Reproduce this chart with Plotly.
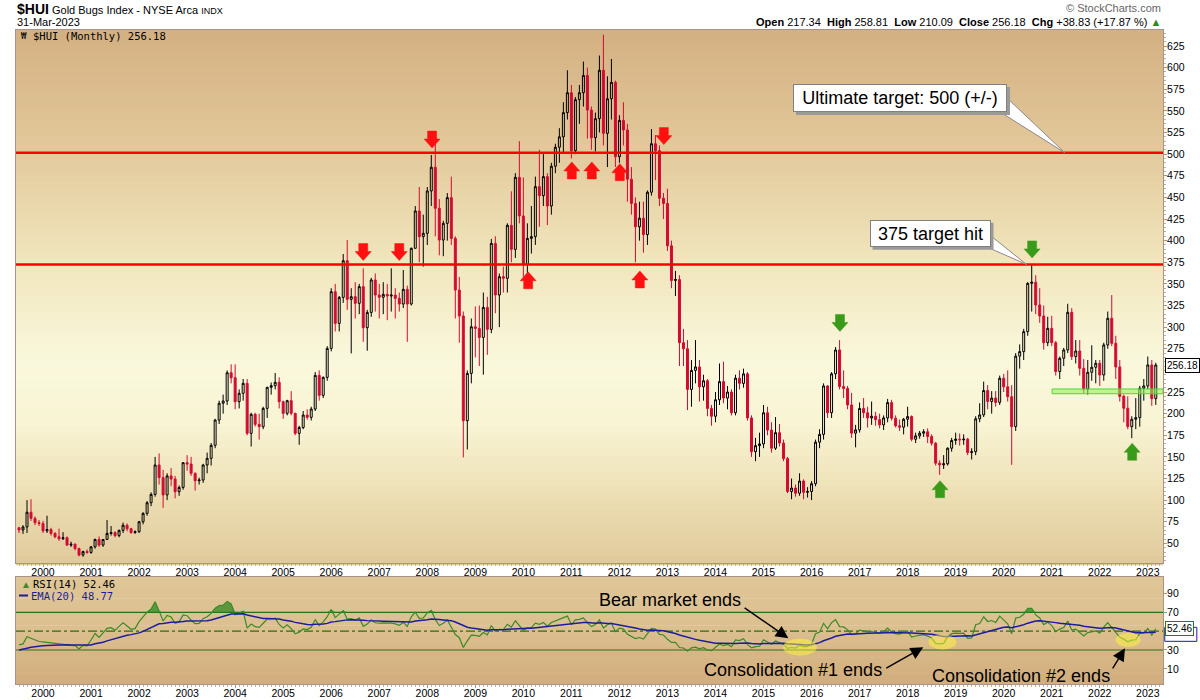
import numpy as np
import plotly.graph_objects as go

# ---------------- data ----------------
start_year, start_month = 1999, 7          # first monthly candle: Jul 1999
first_open = 68.0

closes = [
    # 1999 Jul-Dec
    65.5, 69, 86, 79, 74, 73,
    # 2000
    64.5, 66, 61.5, 57.6, 55.3, 56.5, 48, 49, 44, 36.5, 40.5, 39.5,
    # 2001
    46, 54.5, 48, 54.5, 61.5, 62.5, 59, 65, 71, 67, 62.5, 63.5,
    # 2002
    75, 84.7, 97, 106.6, 140.6, 126, 106, 128, 124.4, 109.7, 114.7, 143.3,
    # 2003
    141.7, 131, 122.4, 123.2, 140.6, 148.3, 163.3, 192.6, 212, 214.6, 247.3, 241.5,
    # 2004
    213.8, 223.5, 235, 177.2, 199.2, 187.6, 184.9, 206.1, 230.4, 232.3, 236.2, 213.8,
    # 2005
    200.3, 215, 200.3, 177.2, 184, 198.4, 195.7, 205.3, 244.2, 221.1, 241.9, 275.4,
    # 2006
    341, 304.3, 334.4, 376.8, 332.1, 335.2, 327.5, 346.8, 299.3, 317, 354.5, 337.1,
    # 2007
    334.5, 337.9, 336, 337, 333.3, 326.7, 343.7, 326.7, 391.1, 434.3, 404.6, 408.4,
    # 2008
    457.4, 484.8, 437.4, 400.7, 420, 449.7, 402.6, 342.9, 312.9, 191.8, 246.5, 300.4,
    # 2009
    298.5, 288.1, 322.8, 297.4, 396.8, 337.1, 358.3, 356.4, 417.7, 389.9, 473.2, 428.5,
    # 2010
    372.6, 402.6, 404.6, 462.4, 452, 474, 440, 486, 508, 520, 548, 571,
    # 2011
    504, 563, 571, 591, 551, 519, 541, 597, 524, 564, 583, 497,
    # 2012
    539, 528, 471, 443, 416, 426, 407, 456, 512, 504, 449, 443,
    # 2013
    394, 354, 355, 282, 275, 228, 250, 254, 231, 238, 206, 197,
    # 2014
    216, 237, 218, 225, 201, 241, 235, 246, 195, 156, 163, 165,
    # 2015
    201, 181, 160, 178, 166, 148, 110, 114, 108, 122, 109, 110,
    # 2016
    119, 167, 176, 232, 201, 246, 273.6, 231.3, 229, 210, 177.4, 181.2,
    # 2017
    206, 201, 195, 197, 193, 187, 195, 212.8, 194.7, 186, 184.3, 193.5,
    # 2018
    196.6, 170.4, 174.3, 177.4, 179, 173.5, 165.8, 142.7, 140.8, 142, 160, 169,
    # 2019
    170.5, 169.7, 170.4, 155, 156, 194, 198.5, 226.7, 214, 218, 213, 240.9,
    # 2020
    231, 219.6, 185, 266.5, 271.7, 294.8, 350.6, 352, 325.6, 312.9, 282, 298.6,
    # 2021
    282, 248.6, 264, 273.6, 317.1, 265.9, 272.4, 252.4, 228.2, 247.8, 253.6, 258.2,
    # 2022
    244.7, 279.4, 310.2, 281.3, 254, 220, 206.2, 185, 193.5, 195.4, 229.3, 232,
    # 2023 Jan-Mar
    256.3, 217.35, 256.18,
]

highs = [
    69, 71, 100, 101, 81, 77,
    76, 82, 68, 63, 67, 63, 58, 52, 50, 45, 41.5, 43,
    47, 55.5, 58, 55, 77, 70, 64, 66, 74, 73, 68, 65,
    76, 86, 99, 109, 150, 154, 135, 131, 137, 128, 117, 144,
    152, 150, 132, 126, 142, 155, 166, 194, 215, 222, 250, 257,
    257, 228, 240, 240, 201, 201, 200, 208, 231, 236, 247, 242,
    215, 216, 226, 201, 186, 203, 205, 208, 248, 250, 243, 278,
    345, 350, 336, 384.5, 400.7, 345, 352, 350, 368, 320, 357, 362,
    350, 352, 350, 368, 345, 340, 366, 348, 392, 440, 462, 430,
    462, 499, 517, 448, 423, 455, 474, 405, 358, 318, 250, 310,
    324, 325, 340, 335, 402, 405, 362, 370, 420, 457, 478, 515,
    473, 420, 440, 474, 505, 500, 478, 490, 512, 530, 560, 597,
    580, 566, 580, 607, 600, 555, 548, 614, 638, 590, 610, 585,
    545, 560, 535, 485, 450, 445, 445, 458, 529, 522, 510, 455,
    460, 400, 365, 360, 298, 285, 262, 285, 262, 245, 240, 210,
    225, 258, 260, 232, 228, 245, 250, 252, 248, 198, 172, 178,
    210, 208, 190, 196, 188, 170, 150, 125, 118, 131, 124, 115,
    122, 170, 182, 235, 233, 248, 277, 285, 250, 232, 224, 187,
    213, 218, 208, 214, 202, 200, 198, 217, 216, 198, 193, 195,
    208, 198, 178, 180, 182, 183, 176, 167, 146, 152, 161, 172,
    178, 177, 176, 172, 160, 197, 212, 237, 233, 226, 226, 244,
    246, 250, 233, 270, 280, 298, 352, 372, 360, 345, 325, 312,
    313, 284, 266, 276, 327, 322, 285, 285, 263, 262, 279, 262,
    262, 282, 318, 337, 290, 262, 222, 220, 197, 218, 232, 240,
    266, 262, 258.81,
]

lows = [
    62, 61, 62, 76, 71, 70,
    62, 62, 59, 56, 53, 54, 47, 46, 42, 35, 34.5, 38,
    38, 44, 46, 46, 54, 59, 57, 57, 62, 64, 61, 61,
    62, 72, 82, 93, 104, 118, 91, 100, 116, 102, 105, 112,
    134, 128, 111, 118, 120, 131, 140, 160, 188, 200, 210, 235,
    205, 206, 215, 175, 162, 185, 170, 182, 195, 222, 228, 206,
    194, 198, 198, 175, 164, 182, 193, 192, 203, 215, 218, 238,
    272, 295, 295, 328, 320, 269.6, 310, 315, 283, 272.7, 312, 318,
    310, 315, 308, 318, 310, 318, 322, 283, 325, 395, 375, 370,
    395, 440, 405, 383, 382, 400, 395, 310, 282, 149.4, 158.6, 235,
    265, 255, 245, 268, 293, 316, 300, 340, 340, 375, 380, 420,
    358, 355, 385, 395, 416, 440, 418, 430, 478, 490, 502, 540,
    495, 500, 535, 555, 518, 505, 503, 525, 510, 485, 540, 485,
    490, 510, 445, 430, 375, 400, 386, 395, 452, 470, 440, 425,
    388, 345, 336, 255, 255, 204, 208, 235, 214, 215, 197, 186,
    190, 210, 212, 205, 198, 198, 228, 230, 192, 150, 145, 150,
    160, 175, 155, 158, 162, 145, 108, 101, 104, 105, 101, 103,
    100, 116, 160, 170, 195, 195, 240, 228, 218, 205, 172, 161,
    178, 195, 184, 187, 186, 183, 181, 190, 192, 184, 180, 176,
    185, 168, 166, 171, 173, 166, 163, 140, 129.2, 136, 140, 156,
    164, 163, 164, 152, 147, 152, 190, 196, 205, 200, 208, 210,
    225, 214, 140.8, 180, 252, 262, 290, 318, 315, 305, 274, 278,
    278, 244, 240, 255, 270, 262, 258, 244, 223.5, 222, 238, 235,
    232, 238, 275, 278, 240, 214, 190, 182, 171.6, 182, 185, 215,
    228, 209, 210.09,
]

# RSI values for the first 14 months (before a full 14-month window exists)
rsi_warmup = [35.5, 36.5, 44, 42.5, 40.5, 39, 38.6, 38, 37.5, 37, 36.5, 36, 35.5, 35]
ema_start = 30.0

year_labels = [str(y) for y in range(2000, 2024)]
price_ticks = list(range(50, 626, 25))
price_tick_text = ["" if v == 250 else str(v) for v in price_ticks]   # 250 is hidden under the last-value tag
rsi_ticks = [10, 30, 70, 90]

target_lines = [501.5, 372.5]
support_band = (223.0, 228.5)
support_band_start = 252.1          # month index where the green band starts

red_down_x = [80.0, 89.0, 97.2, 155.1]
red_down_y = [377, 377, 507, 511]
red_up_x = [121.2, 132.1, 137.1, 144.1, 149.1]
red_up_y = [364, 491, 491, 489, 365]
green_down_x = [199.1, 247.1]
green_down_y = [295, 380]
green_up_x = [224.1, 272.1]
green_up_y = [122.5, 165.7]

# yellow highlight ellipses in RSI panel (month index, RSI value)
ellipse_x = [189.1, 224.7, 271.1]
ellipse_y = [32.9, 38.5, 40.6]

# callout boxes: (month index, price, text, box width px, box height px)
callouts = [(214.1, 564.9, "Ultimate target: 500 (+/-)", 214, 28),
            (221.6, 408.5, "375 target hit", 121, 27)]

header_values = "<b>Open</b> 217.34  <b>High</b> 258.81  <b>Low</b> 210.09  <b>Close</b> 256.18  <b>Chg</b> +38.83 (+17.87 %) "
last_close_label = "256.18"
rsi_label_value = 52.46
ema_label_value = 48.77

# ---------------- derived ----------------
n = len(closes)
m0 = (start_year - 2000) * 12 + (start_month - 1)
mx = np.arange(n) + m0
c = np.array(closes, float)
opens = np.concatenate([[first_open], c[:-1]])
h = np.maximum(np.array(highs, float), np.maximum(opens, c))
l = np.minimum(np.array(lows, float), np.minimum(opens, c))

# Wilder RSI(14)
period = 14
d = np.diff(c)
g = np.clip(d, 0, None)
ls = np.clip(-d, 0, None)
rsi = np.full(n, np.nan)
rsi[:period] = rsi_warmup
ag = g[:period].mean()
al = ls[:period].mean()
rsi[period] = 100 - 100 / (1 + ag / al)
for i in range(period + 1, n):
    ag = (ag * (period - 1) + g[i - 1]) / period
    al = (al * (period - 1) + ls[i - 1]) / period
    rsi[i] = 100 - 100 / (1 + ag / al) if al > 0 else 100
ema = np.zeros(n)
alpha = 2 / 21
ema[0] = ema_start
for i in range(1, n):
    ema[i] = alpha * rsi[i] + (1 - alpha) * ema[i - 1]

# ---------------- figure ----------------
W, H = 1200, 700
L, R, T, B = 16, 37, 30, 16
PW, PH = W - L - R, H - T - B


def P(px, py):
    # page pixel -> paper coordinates
    return (px - L) / PW, (H - B - py) / PH


XR = [-6.75, 279.8]
main_dom = [0.185, 1.0]
rsi_dom = [0.0, 0.1636]

fig = go.Figure()

fig.add_trace(go.Candlestick(
    x=mx, open=opens, high=h, low=l, close=c, xaxis="x", yaxis="y",
    increasing=dict(line=dict(color="black", width=1), fillcolor="rgba(0,0,0,0)"),
    decreasing=dict(line=dict(color="#d40a32", width=1), fillcolor="#d40a32"),
    whiskerwidth=0, hoverinfo="skip", showlegend=False))

# RSI panel
fig.add_trace(go.Scatter(x=mx, y=np.full(n, 70.0), xaxis="x2", yaxis="y2", mode="lines",
                         line=dict(width=0), hoverinfo="skip", showlegend=False))
fig.add_trace(go.Scatter(x=mx, y=np.maximum(rsi, 70), xaxis="x2", yaxis="y2", mode="lines",
                         line=dict(width=0), fill="tonexty", fillcolor="rgba(50,135,35,0.75)",
                         hoverinfo="skip", showlegend=False))
fig.add_trace(go.Scatter(x=mx, y=rsi, xaxis="x2", yaxis="y2", mode="lines",
                         line=dict(color="#3a8a26", width=1.2), hoverinfo="skip", showlegend=False))
fig.add_trace(go.Scatter(x=mx, y=ema, xaxis="x2", yaxis="y2", mode="lines",
                         line=dict(color="#1c1ca0", width=1.5), hoverinfo="skip", showlegend=False))

shapes = []


def lerp_stops(stops, t):
    for (t0, c0), (t1, c1) in zip(stops[:-1], stops[1:]):
        if t0 <= t <= t1:
            f = (t - t0) / (t1 - t0) if t1 > t0 else 0
            return "rgb(%d,%d,%d)" % tuple(round(a + (b - a) * f) for a, b in zip(c0, c1))
    return "rgb(%d,%d,%d)" % stops[-1][1]


def gradient(yref, stops, nb):
    for i in range(nb):
        t0, t1 = i / nb, (i + 1) / nb
        shapes.append(dict(type="rect", xref="paper", yref=yref, x0=0, x1=1,
                           y0=1 - t1 - 0.004, y1=1 - t0, layer="below", line=dict(width=0),
                           fillcolor=lerp_stops(stops, (t0 + t1) / 2)))


gradient("y domain", [(0.0, (211, 176, 130)), (0.2, (225, 198, 152)), (0.42, (240, 228, 186)),
                      (0.62, (250, 248, 220)), (0.74, (248, 244, 212)), (0.88, (236, 222, 178)),
                      (1.0, (224, 202, 156))], 70)
gradient("y2 domain", [(0.0, (223, 198, 151)), (0.5, (219, 191, 143)), (1.0, (210, 172, 124))], 20)

# RSI reference lines
for v, dash in [(70, "solid"), (30, "solid"), (50, "dashdot")]:
    shapes.append(dict(type="line", xref="paper", yref="y2", x0=0, x1=1, y0=v, y1=v, layer="below",
                       line=dict(color="#2a6e16", width=1.2, dash=dash)))

# target lines
for v in target_lines:
    shapes.append(dict(type="line", xref="paper", yref="y", x0=0, x1=1, y0=v, y1=v,
                       line=dict(color="#ff0000", width=2.5)))

# green support band
shapes.append(dict(type="rect", xref="x", yref="y", x0=support_band_start, x1=XR[1],
                   y0=support_band[0], y1=support_band[1], fillcolor="rgba(130,250,90,0.55)",
                   line=dict(color="#5ad03a", width=1)))

DOWN = "M0,0 L-8,9 L-4.5,9 L-4.5,17 L4.5,17 L4.5,9 L8,9 Z"
UP = "M0,0 L-8,-9 L-4.5,-9 L-4.5,-17 L4.5,-17 L4.5,-9 L8,-9 Z"


def arrows(xs, ys, path, color):
    for x, y in zip(xs, ys):
        shapes.append(dict(type="path", xref="x", yref="y", xsizemode="pixel", ysizemode="pixel",
                           xanchor=x, yanchor=y, path=path, fillcolor=color,
                           line=dict(color=color, width=0.5)))


arrows(red_down_x, red_down_y, DOWN, "#ff1010")
arrows(red_up_x, red_up_y, UP, "#ff1010")
arrows(green_down_x, green_down_y, DOWN, "#3a9a1a")
arrows(green_up_x, green_up_y, UP, "#3a9a1a")

# callout wedges (tip on the target lines)
shapes.append(dict(type="path", xref="x", yref="y", xsizemode="pixel", ysizemode="pixel",
                   xanchor=255.3, yanchor=target_lines[0], path="M0,0 L-65,41 L-57,54 Z",
                   fillcolor="white", line=dict(color="#8a8a8a", width=1)))
shapes.append(dict(type="path", xref="x", yref="y", xsizemode="pixel", ysizemode="pixel",
                   xanchor=245.7, yanchor=target_lines[1], path="M0,0 L-41,18 L-35,28 Z",
                   fillcolor="white", line=dict(color="#8a8a8a", width=1)))

# drop shadows of the callout boxes
for (xm, yp, s, bw, bh) in callouts:
    shapes.append(dict(type="rect", xref="x", yref="y", xsizemode="pixel", ysizemode="pixel",
                       xanchor=xm, yanchor=yp, x0=-bw / 2 + 3, x1=bw / 2 + 3, y0=-bh / 2 - 3, y1=bh / 2 - 3,
                       fillcolor="#9a9a9a", line=dict(width=0)))

# yellow highlight ellipses
rx = [17, 14, 12.5]
ry = [8.5, 7.5, 7]
for x, y, a, b in zip(ellipse_x, ellipse_y, rx, ry):
    shapes.append(dict(type="circle", xref="x2", yref="y2", xsizemode="pixel", ysizemode="pixel",
                       xanchor=x, yanchor=y, x0=-a, x1=a, y0=-b, y1=b,
                       fillcolor="rgba(255,245,60,0.5)", line=dict(width=0)))

# legend icon line for EMA
ex0, ey = P(19, 595.5)
ex1, _ = P(28, 595.5)
shapes.append(dict(type="line", xref="paper", yref="paper", x0=ex0, x1=ex1, y0=ey, y1=ey,
                   line=dict(color="#1c1ca0", width=2)))

# EMA last-value tag (mostly hidden under the RSI tag)
shapes.append(dict(type="rect", xref="paper", yref="y2", ysizemode="pixel", yanchor=ema_label_value,
                   x0=1.0015, x1=1.0295, y0=-9, y1=5, fillcolor="white",
                   line=dict(color="#1c1ca0", width=1)))

ann = []
SANS = "Liberation Sans, Arial, sans-serif"
MONO = "DejaVu Sans Mono, monospace"


def text(px, py, s, size=11, color="black", anchor="left", family=SANS, **kw):
    x, y = P(px, py)
    ann.append(dict(xref="paper", yref="paper", x=x, y=y, text=s, showarrow=False,
                    xanchor=anchor, yanchor="middle", font=dict(family=family, size=size, color=color), **kw))


# header
text(15, 9, "<b><span style='font-size:14px'>$HUI</span></b> Gold Bugs Index - NYSE Arca <span style='font-size:9px'>INDX</span>", 11)
text(15, 22.5, "31-Mar-2023", 11)
text(1163, 8, "© StockCharts.com", 11, color="#666666", anchor="right")
text(1163, 22.5, header_values + "<span style='color:#2e8b1e'>▲</span>", 11, anchor="right")

# panel legends
text(31, 36, "$HUI (Monthly) 256.18", 10.5, family=MONO)
text(19, 36, "₩", 9, family=MONO)
text(19, 584, "<span style='color:#3a8a26'>▲</span>", 10)
text(31, 584, "RSI(14) 52.46", 10.5, family=MONO)
text(29, 595.5, "EMA(20) 48.77", 10.5, color="#1c1ca0", family=MONO)

# RSI panel notes
text(670, 600, "Bear market ends", 18, anchor="center")
text(792.5, 669.5, "Consolidation #1 ends", 18, anchor="center")
text(1021, 675.5, "Consolidation #2 ends", 18, anchor="center")

for (tx, ty, ax, ay) in [(186.2, 42.4, 174.9, 75.9), (219.9, 32.9, 210.3, 9.8), (270.3, 31.8, 267.0, 8.8)]:
    ann.append(dict(xref="x2", yref="y2", x=tx, y=ty, axref="x2", ayref="y2", ax=ax, ay=ay, text="",
                    showarrow=True, arrowhead=2, arrowsize=1.8, arrowwidth=1.4, arrowcolor="black",
                    standoff=0, startstandoff=0))

# callout boxes
for (xm, yp, s, bw, bh) in callouts:
    ann.append(dict(xref="x", yref="y", x=xm, y=yp, text=s, showarrow=False, width=bw - 4, height=bh - 4,
                    font=dict(family=SANS, size=18, color="black"), bgcolor="white",
                    bordercolor="#808080", borderwidth=1, borderpad=1))

# last value tags on the right axis
ann.append(dict(xref="paper", yref="y2", x=1.0, y=rsi_label_value, xanchor="left", xshift=2,
                text="52.46", showarrow=False, font=dict(family=SANS, size=10, color="black"),
                bgcolor="white", bordercolor="#2a7a1a", borderwidth=1, borderpad=1))
ann.append(dict(xref="paper", yref="y", x=1.0, y=c[-1], xanchor="left", xshift=2,
                text=last_close_label, showarrow=False, font=dict(family=SANS, size=10, color="black"),
                bgcolor="white", bordercolor="black", borderwidth=1, borderpad=1))

BORDER = "#a8928a"
axis_common = dict(showline=True, linecolor=BORDER, linewidth=1, mirror=True, showgrid=False,
                   zeroline=False, tickfont=dict(family=SANS, size=10.5, color="black"))

fig.update_layout(
    width=W, height=H, margin=dict(l=L, r=R, t=T, b=B, autoexpand=False),
    paper_bgcolor="white", plot_bgcolor="rgba(0,0,0,0)", showlegend=False,
    xaxis=dict(domain=[0, 1], anchor="y", range=XR, tickvals=list(range(0, 277, 12)), ticktext=year_labels,
               ticks="outside", ticklen=3, tickcolor=BORDER, rangeslider=dict(visible=False),
               ticklabelstandoff=-4,
               minor=dict(dtick=1, ticks="outside", ticklen=2, tickcolor="#c0b0a8"), **axis_common),
    yaxis=dict(domain=main_dom, anchor="x", side="right", range=[27.3, 643.5], tickvals=price_ticks,
               ticktext=price_tick_text,
               ticks="outside", ticklen=3, tickcolor=BORDER, ticklabelstandoff=-2,
               minor=dict(dtick=5, ticks="outside", ticklen=2, tickcolor="#c0b0a8"), **axis_common),
    xaxis2=dict(domain=[0, 1], anchor="y2", range=XR, tickvals=list(range(0, 277, 12)), ticktext=year_labels,
                ticks="outside", ticklen=3, tickcolor=BORDER, ticklabelstandoff=-4,
                minor=dict(dtick=1, ticks="outside", ticklen=2, tickcolor="#c0b0a8"), **axis_common),
    yaxis2=dict(domain=rsi_dom, anchor="x2", side="right", range=[-6.1, 107.5], tickvals=rsi_ticks,
                ticks="outside", ticklen=3, tickcolor=BORDER, ticklabelstandoff=-2, **axis_common),
    shapes=shapes, annotations=ann,
)

fig.write_html("out.html", config={"displayModeBar": False},
               post_script="document.body.style.margin='0';")
